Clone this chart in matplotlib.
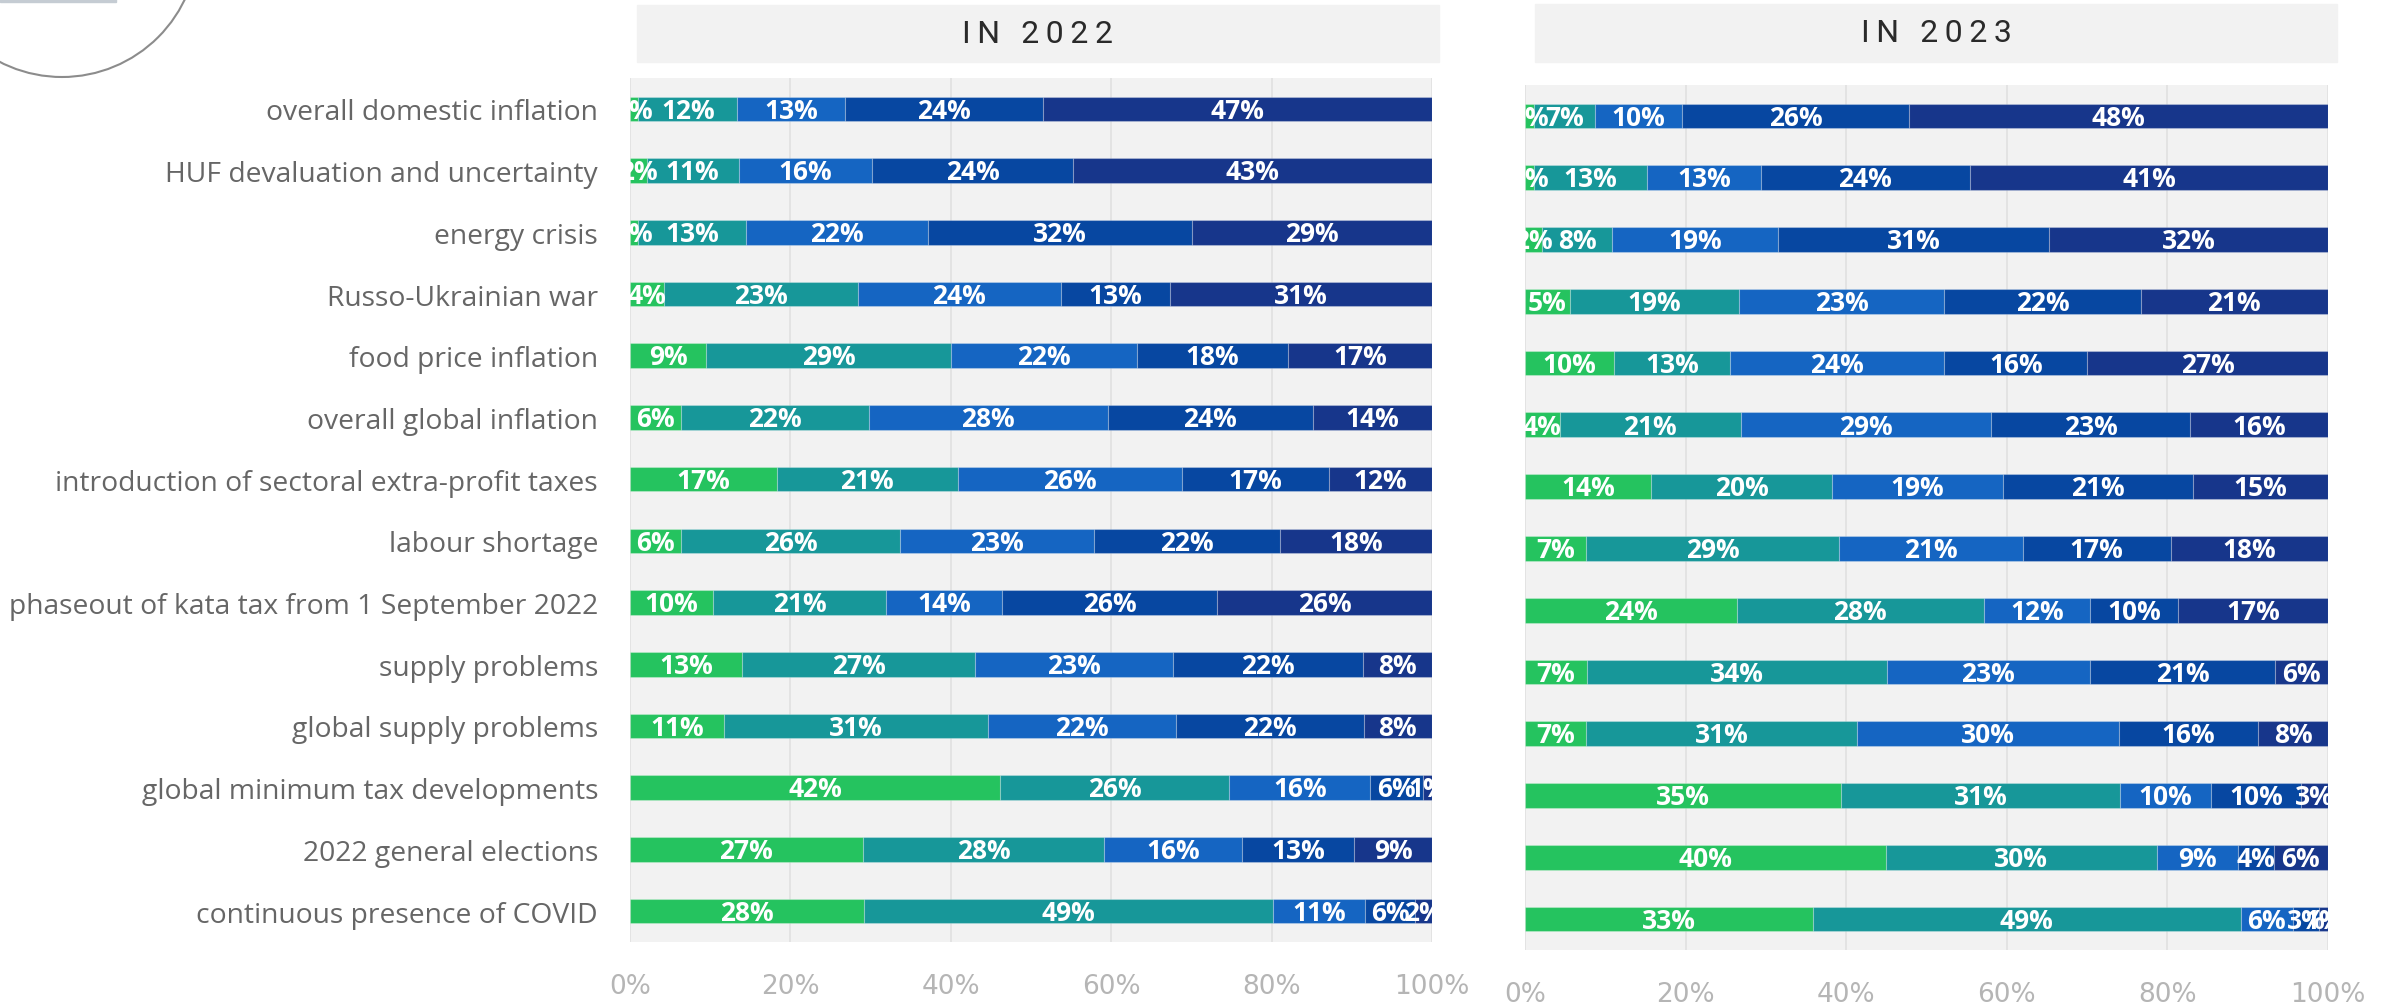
import numpy as np
import matplotlib
matplotlib.use("Agg")
import matplotlib.pyplot as plt
from matplotlib.patches import Rectangle, Circle

factors = ["overall domestic inflation", "HUF devaluation and uncertainty", "energy crisis",
           "Russo-Ukrainian war", "food price inflation", "overall global inflation",
           "introduction of sectoral extra-profit taxes", "labour shortage",
           "phaseout of kata tax from 1 September 2022", "supply problems",
           "global supply problems", "global minimum tax developments",
           "2022 general elections", "continuous presence of COVID"]

# answer shares, lowest level first (green) to highest (navy)
lvl1_2022 = [1, 2, 1, 4, 9, 6, 17, 6, 10, 13, 11, 42, 27, 28]
lvl2_2022 = [12, 11, 13, 23, 29, 22, 21, 26, 21, 27, 31, 26, 28, 49]
lvl3_2022 = [13, 16, 22, 24, 22, 28, 26, 23, 14, 23, 22, 16, 16, 11]
lvl4_2022 = [24, 24, 32, 13, 18, 24, 17, 22, 26, 22, 22, 6, 13, 6]
lvl5_2022 = [47, 43, 29, 31, 17, 14, 12, 18, 26, 8, 8, 1, 9, 2]

lvl1_2023 = [1, 1, 2, 5, 10, 4, 14, 7, 24, 7, 7, 35, 40, 33]
lvl2_2023 = [7, 13, 8, 19, 13, 21, 20, 29, 28, 34, 31, 31, 30, 49]
lvl3_2023 = [10, 13, 19, 23, 24, 29, 19, 21, 12, 23, 30, 10, 9, 6]
lvl4_2023 = [26, 24, 31, 22, 16, 23, 21, 17, 10, 21, 16, 10, 4, 3]
lvl5_2023 = [48, 41, 32, 21, 27, 16, 15, 18, 17, 6, 8, 3, 6, 1]

years = ["IN 2022", "IN 2023"]
ticks = [0, 20, 40, 60, 80, 100]

colors = ["#25c35f", "#179799", "#1565c2", "#0747a1", "#17368b"]
BG = "#f2f2f2"
W, H = 2394, 1003

fig = plt.figure(figsize=(W / 100, H / 100), dpi=100)


def px_rect(x0, y0, x1, y1):
    # figure fraction box from pixel coords (origin top-left)
    return [x0 / W, 1 - y1 / H, (x1 - x0) / W, (y1 - y0) / H]


def draw_panel(ax, series, title_box, title):
    ax.set_facecolor(BG)
    data = np.array(series, dtype=float).T  # rows x levels
    shares = data / data.sum(axis=1, keepdims=True) * 100
    y = np.arange(len(factors))
    left = np.zeros(len(factors))
    for k in range(shares.shape[1]):
        ax.barh(y, shares[:, k], left=left, height=0.4, color=colors[k],
                edgecolor=(1, 1, 1, 0.25), linewidth=0.8, zorder=3)
        for i in range(len(factors)):
            ax.text(left[i] + shares[i, k] / 2, y[i] + 0.02, f"{int(data[i, k])}%",
                    ha="center", va="center", color="white", fontsize=19,
                    fontweight="bold", family=["Open Sans", "DejaVu Sans"],
                    clip_on=True, zorder=4)
        left += shares[:, k]
    ax.set_xlim(0, 100)
    ax.set_ylim(len(factors) - 0.5, -0.5)
    ax.set_xticks(ticks)
    ax.set_xticklabels([f"{t}%" for t in ticks], color="#b5b5b5", fontsize=19,
                       family=["Liberation Sans Narrow", "DejaVu Sans"])
    ax.tick_params(axis="x", length=0, pad=22)
    ax.grid(axis="x", color="#e3e3e3", linewidth=1.4, zorder=0)
    ax.set_axisbelow(True)
    for s in ax.spines.values():
        s.set_visible(False)

    fig.patches.append(Rectangle((title_box[0], title_box[1]), title_box[2], title_box[3],
                                 transform=fig.transFigure, color=BG, zorder=0))
    fig.text(title_box[0] + title_box[2] / 2, title_box[1] + title_box[3] / 2,
             "\u2009".join(title), ha="center", va="center", fontsize=23,
             color="#2a2a2a", family=["Roboto", "DejaVu Sans"])


ax1 = fig.add_axes(px_rect(630, 79, 1432, 943))
ax2 = fig.add_axes(px_rect(1525, 86, 2328, 951))

draw_panel(ax1, [lvl1_2022, lvl2_2022, lvl3_2022, lvl4_2022, lvl5_2022],
           px_rect(637, 6, 1439, 63), years[0])
draw_panel(ax2, [lvl1_2023, lvl2_2023, lvl3_2023, lvl4_2023, lvl5_2023],
           px_rect(1535, 5, 2337, 63), years[1])

ax1.set_yticks(np.arange(len(factors)))
ax1.set_yticklabels(factors, fontsize=20.3, color="#666666",
                    family=["Open Sans", "DejaVu Sans"])
ax1.tick_params(axis="y", length=0, pad=23)
ax2.set_yticks([])

# decorative corner elements
fig.patches.append(Circle((0.62, 10.61), 1.36, transform=fig.dpi_scale_trans,
                          fill=False, edgecolor="#8c8c8c", linewidth=1.5))
fig.patches.append(Rectangle((0, 1 - 3 / H), 116 / W, 3 / H,
                             transform=fig.transFigure, color="#c5ccd3"))

fig.savefig("out.png", dpi=100)
